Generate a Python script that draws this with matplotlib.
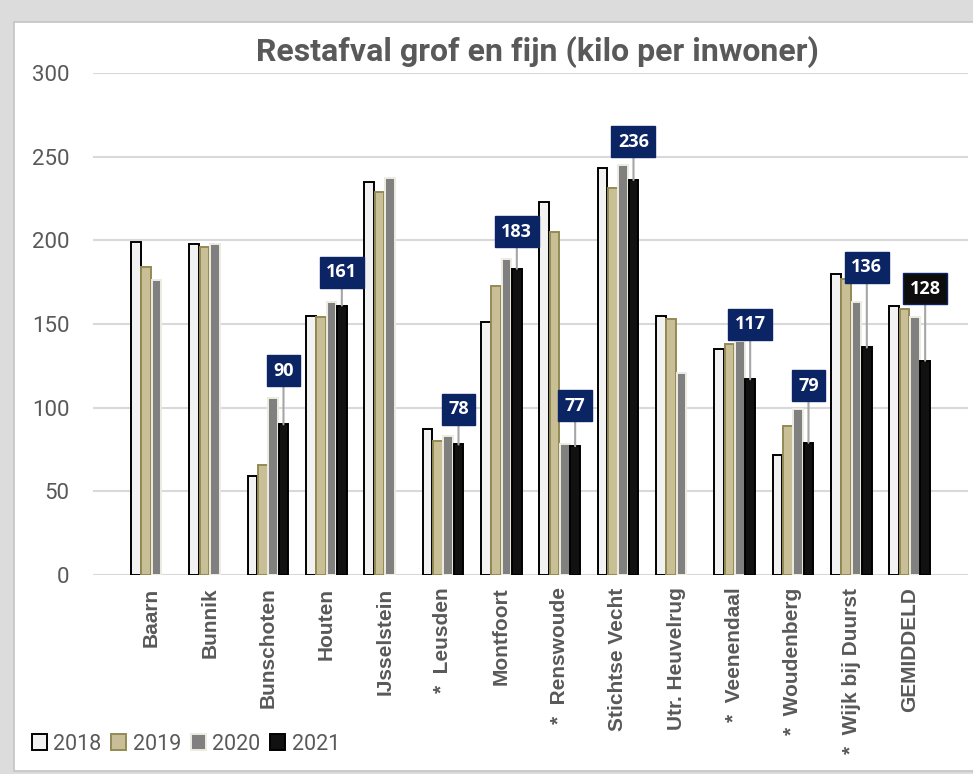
import numpy as np
import matplotlib
matplotlib.use('Agg')
import matplotlib.pyplot as plt
from matplotlib import font_manager
from matplotlib.patches import Rectangle, Patch

# data
gemeenten = ["Baarn", "Bunnik", "Bunschoten", "Houten", "IJsselstein",
             "*  Leusden", "Montfoort", "*  Renswoude", "Stichtse Vecht",
             "Utr. Heuvelrug", "*  Veenendaal", "*  Woudenberg",
             "*  Wijk bij Duurst", "GEMIDDELD"]
jaren = ["2018", "2019", "2020", "2021"]
v2018 = [199, 198, 59, 155, 235, 87, 151, 223, 243, 155, 135, 72, 180, 161]
v2019 = [184, 196, 66, 154, 229, 80, 173, 205, 231, 153, 138, 89, 177, 159]
v2020 = [176, 198, 106, 163, 237, 83, 189, 78, 245, 121, 140, 99, 163, 154]
v2021 = [np.nan, np.nan, 90, 161, np.nan, 78, 183, 77, 236, np.nan, 117, 79, 136, 128]

# where the value boxes sit above the 2021 bar (in kilo)
label_lift = [0, 0, 32, 20, 0, 21, 22, 24, 23, 0, 33, 34, 48, 43]

fills = ["#f2f2f2", "#c8bf96", "#808080", "#111111"]
edges = ["#000000", "#948a54", "#eeece1", "#000000"]
grey = "#595959"
navy = "#0b2463"


def pick(*names):
    have = set(f.name for f in font_manager.fontManager.ttflist)
    for n in names:
        if n in have:
            return n
    return "DejaVu Sans"


f_title = pick("Roboto", "Liberation Sans")
f_narrow = pick("Liberation Sans Narrow", "Liberation Sans")
f_box = pick("Open Sans", "Roboto")

fig = plt.figure(figsize=(9.73, 7.74), dpi=100, facecolor="#dcdcdc")
# white card with a light shadow border
fig.patches.append(Rectangle((14 / 973, 3 / 774), 1.0, 749 / 774,
                             transform=fig.transFigure, facecolor="white",
                             edgecolor="#c4c4c4", linewidth=1.2, zorder=-5))

ax = fig.add_axes([93 / 973, 199 / 774, 875 / 973, 502 / 774])
ax.set_facecolor("none")

x = np.arange(len(gemeenten))
w = 0.177
series = [v2018, v2019, v2020, v2021]
for k, vals in enumerate(series):
    ax.bar(x + (k - 1.5) * w, vals, width=w * 0.92, color=fills[k],
           edgecolor=edges[k], linewidth=1.4, zorder=3)

# value boxes on the 2021 bars
for i, v in enumerate(v2021):
    if np.isnan(v):
        continue
    bx = x[i] + 1.5 * w
    face = "#0d0d0d" if gemeenten[i] == "GEMIDDELD" else navy
    ax.annotate(str(int(v)), xy=(bx, v), xytext=(bx, v + label_lift[i]),
                ha="center", va="center", color="white", fontsize=13,
                fontweight="bold", family=f_box, zorder=6,
                bbox=dict(boxstyle="square,pad=0.36", facecolor=face,
                          edgecolor=navy, linewidth=1),
                arrowprops=dict(arrowstyle="-", color="#a6a6a6", lw=1.5,
                                shrinkA=0, shrinkB=0))

ax.set_xlim(-1, 14)
ax.set_ylim(0, 300)
ax.set_yticks([0, 50, 100, 150, 200, 250, 300])
ax.yaxis.grid(True, color="#d9d9d9", linewidth=1.5, zorder=0)
ax.set_axisbelow(True)
for s in ax.spines.values():
    s.set_visible(False)
ax.tick_params(axis="both", length=0)
ax.tick_params(axis="y", labelsize=16, labelcolor=grey, pad=17)
for t in ax.get_yticklabels():
    t.set_family(f_title)

ax.set_xticks(x)
ax.set_xticklabels(gemeenten, rotation=90, fontsize=15, fontweight="bold",
                   color=grey, family=f_narrow, va="top", ha="center")
ax.tick_params(axis="x", pad=9)

fig.text(537 / 973, 1 - 52 / 774, "Restafval grof en fijn (kilo per inwoner)",
         ha="center", va="center", fontsize=23, fontweight="bold",
         color=grey, family=f_title)

handles = [Patch(facecolor=fills[k], edgecolor=edges[k], linewidth=1.4)
           for k in range(4)]
fig.legend(handles, jaren, loc="center left",
           bbox_to_anchor=(21 / 973, 30 / 774), ncol=4, frameon=False,
           prop={"family": f_title, "size": 15.5}, labelcolor=grey,
           handlelength=0.7, handleheight=0.7, handletextpad=0.3,
           columnspacing=0.45, borderpad=0)

fig.savefig("out.png", dpi=100, facecolor=fig.get_facecolor())
